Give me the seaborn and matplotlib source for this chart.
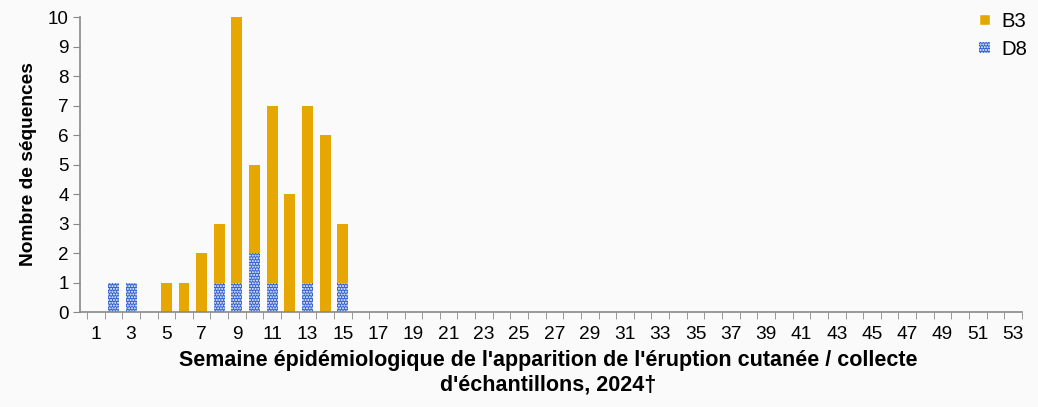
import numpy as np
import pandas as pd
import matplotlib.pyplot as plt
import seaborn as sns
from matplotlib.patches import Patch

weeks = list(range(1, 54))
b3_weeks = [5, 6, 7, 8, 9, 10, 11, 12, 13, 14, 15]
b3_vals = [1, 1, 2, 2, 9, 3, 6, 4, 6, 6, 2]
d8_weeks = [2, 3, 8, 9, 10, 11, 13, 15]
d8_vals = [1, 1, 1, 1, 2, 1, 1, 1]

df = pd.DataFrame({"semaine": weeks})
df["B3"] = df["semaine"].map(dict(zip(b3_weeks, b3_vals))).fillna(0)
df["D8"] = df["semaine"].map(dict(zip(d8_weeks, d8_vals))).fillna(0)
df["total"] = df["B3"] + df["D8"]
df["semaine"] = df["semaine"].astype(str)

gold = "#E6A800"
blue = "#2F5FD0"

sns.set_style("white")
plt.rcParams["font.family"] = ["Liberation Sans", "DejaVu Sans"]
plt.rcParams["text.color"] = "black"
plt.rcParams["axes.labelcolor"] = "black"
plt.rcParams["xtick.color"] = "black"
plt.rcParams["ytick.color"] = "black"
plt.rcParams["hatch.color"] = "#9DB8F2"
plt.rcParams["hatch.linewidth"] = 1.0

fig = plt.figure(figsize=(10.38, 4.07), dpi=100)
fig.patch.set_facecolor("#FAFAFA")
ax = fig.add_axes([0.077, 0.2334, 0.9075, 0.7248])
ax.set_facecolor("#FAFAFA")

sns.barplot(data=df, x="semaine", y="total", color=gold, width=0.62,
            saturation=1, ax=ax, linewidth=0)
sns.barplot(data=df, x="semaine", y="D8", color=blue, width=0.62,
            saturation=1, ax=ax, linewidth=0, hatch="......")

ax.set_ylim(0, 10)
ax.set_xlim(-0.9, 52.5)
ax.set_yticks(range(0, 11))
ax.tick_params(axis="y", labelsize=13.6, length=5, color="#888888", labelcolor="black",
               direction="out", left=True, pad=3)
ax.set_xticks(range(0, 53, 2))
ax.set_xticklabels([str(w) for w in weeks[::2]])
ax.set_xticks(np.arange(-0.5, 53, 1), minor=True)
ax.tick_params(axis="x", which="major", length=0, labelsize=13.8, labelcolor="black", pad=10)
ax.tick_params(axis="x", which="minor", length=5, color="#888888", bottom=True)

for s in ["top", "right"]:
    ax.spines[s].set_visible(False)
for s in ["left", "bottom"]:
    ax.spines[s].set_color("#888888")
    ax.spines[s].set_linewidth(1.2)

ax.set_ylabel("Nombre de séquences", fontsize=13.8, fontweight="bold", labelpad=8)
ax.set_xlabel("")
ax.text(0.4968, -0.166,
        "Semaine épidémiologique de l'apparition de l'éruption cutanée / collecte",
        transform=ax.transAxes, ha="center", va="center",
        fontsize=15.5, fontweight="bold")
ax.text(0.4968, -0.247, "d'échantillons, 2024†",
        transform=ax.transAxes, ha="center", va="center",
        fontsize=15.5, fontweight="bold")

handles = [Patch(facecolor=gold, label="B3"),
           Patch(facecolor=blue, hatch="......", label="D8", linewidth=0)]
ax.legend(handles=handles, loc="upper right", frameon=False, fontsize=14.6,
          handlelength=0.55, handleheight=0.45, handletextpad=0.55,
          labelspacing=0.45, bbox_to_anchor=(1.025, 1.08))

fig.savefig("out.png", dpi=100, facecolor=fig.get_facecolor())
